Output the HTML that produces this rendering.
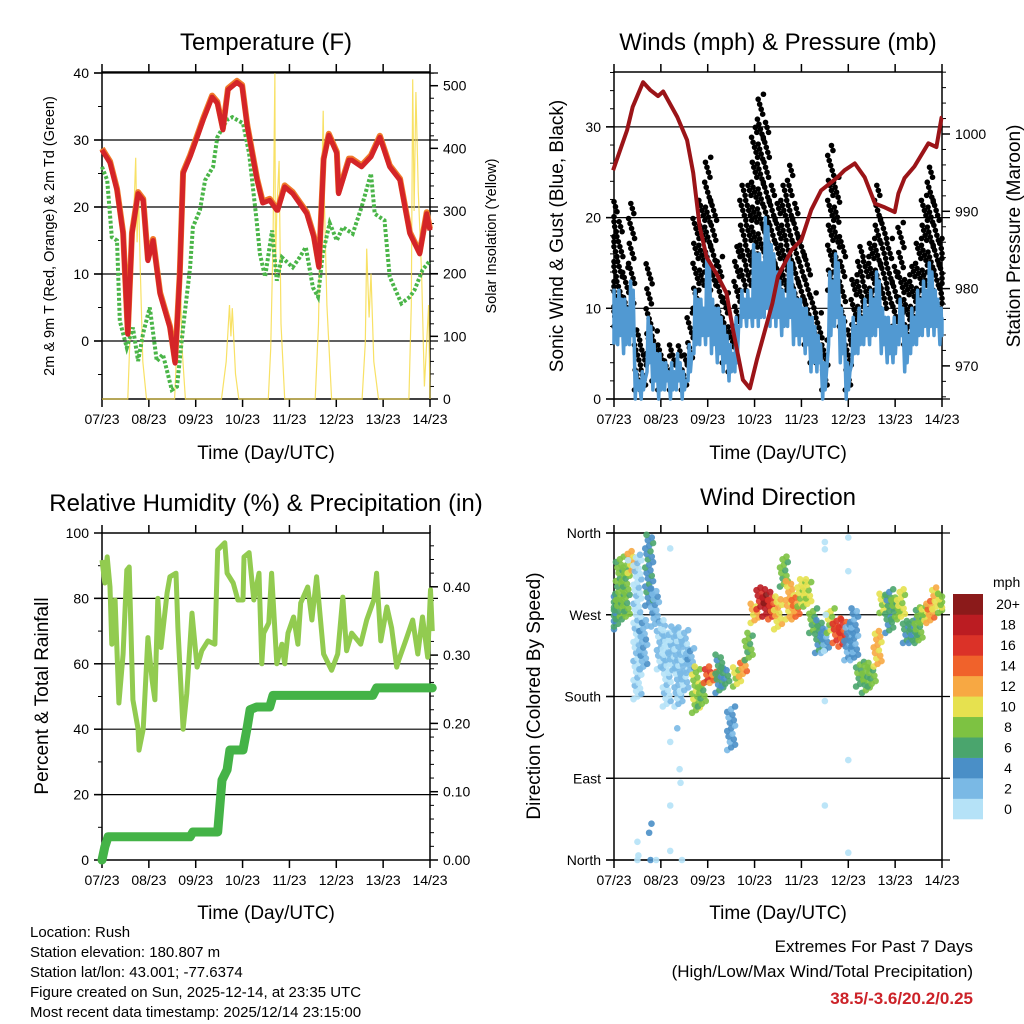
<!DOCTYPE html>
<html><head><meta charset="utf-8"><style>
html,body{margin:0;padding:0;background:#fff;}
svg{display:block;font-family:"Liberation Sans",Arial,sans-serif;}
</style></head><body>
<svg id="chart" width="1024" height="1024" viewBox="0 0 1024 1024" xmlns="http://www.w3.org/2000/svg">
<rect width="1024" height="1024" fill="#fff"/>
<g id="layer"></g>
<text x="266" y="50" font-size="24" text-anchor="middle">Temperature (F)</text>
<text x="778" y="50" font-size="24" text-anchor="middle">Winds (mph) &amp; Pressure (mb)</text>
<text x="266" y="511" font-size="24" text-anchor="middle">Relative Humidity (%) &amp; Precipitation (in)</text>
<text x="778" y="505" font-size="24" text-anchor="middle">Wind Direction</text>
<text x="266" y="459" font-size="19" text-anchor="middle">Time (Day/UTC)</text>
<text x="778" y="459" font-size="19" text-anchor="middle">Time (Day/UTC)</text>
<text x="266" y="919" font-size="19" text-anchor="middle">Time (Day/UTC)</text>
<text x="778" y="919" font-size="19" text-anchor="middle">Time (Day/UTC)</text>
<text transform="translate(54,236) rotate(-90)" font-size="14.5" text-anchor="middle">2m &amp; 9m T (Red, Orange) &amp; 2m Td (Green)</text>
<text transform="translate(496,236) rotate(-90)" font-size="14.5" text-anchor="middle">Solar Insolation (Yellow)</text>
<text transform="translate(563,236) rotate(-90)" font-size="19" text-anchor="middle">Sonic Wind &amp; Gust (Blue, Black)</text>
<text transform="translate(1020,236) rotate(-90)" font-size="19" text-anchor="middle">Station Pressure (Maroon)</text>
<text transform="translate(48,696) rotate(-90)" font-size="19" text-anchor="middle">Percent &amp; Total Rainfall</text>
<text transform="translate(540,696) rotate(-90)" font-size="19" text-anchor="middle">Direction (Colored By Speed)</text>
<g font-size="15">
<text x="30" y="937">Location: Rush</text>
<text x="30" y="957">Station elevation: 180.807 m</text>
<text x="30" y="977">Station lat/lon: 43.001; -77.6374</text>
<text x="30" y="997">Figure created on Sun, 2025-12-14, at 23:35 UTC</text>
<text x="30" y="1017">Most recent data timestamp: 2025/12/14 23:15:00</text>
</g>
<g font-size="17" text-anchor="end">
<text x="973" y="952">Extremes For Past 7 Days</text>
<text x="973" y="977">(High/Low/Max Wind/Total Precipitation)</text>
<text x="973" y="1004" fill="#cc2228" font-weight="bold">38.5/-3.6/20.2/0.25</text>
</g>
</svg>
<script>
// ---------- DATA ----------
const dayLabels = ["07/23","08/23","09/23","10/23","11/23","12/23","13/23","14/23"];
const tempTime = [0,0.17,0.32,0.45,0.55,0.64,0.77,0.88,0.98,1.09,1.24,1.45,1.56,1.66,1.73,1.88,2.03,2.16,2.35,2.46,2.58,2.69,2.88,2.99,3.1,3.31,3.43,3.58,3.73,3.75,3.9,4.07,4.37,4.52,4.63,4.73,4.84,5.01,5.05,5.27,5.33,5.54,5.74,5.93,6.14,6.36,6.57,6.78,6.93,7.0];
const tempVal = [28.5,26.6,22.5,16,1,16,22,21,12,15,7,2,-3.3,10,25,27.5,30.4,33,36.4,35.5,31.5,37.5,38.6,38,32,24,20.6,21,19.5,19.5,23,22,19,15.5,11,27,30.7,28,22,27,27,26,27.5,30.4,26,24,16,13,19,16.5];
const dewTime = [0,0.11,0.21,0.32,0.38,0.53,0.66,0.77,0.88,1.02,1.17,1.3,1.49,1.6,1.73,1.88,1.94,2.09,2.2,2.37,2.46,2.67,2.78,3.01,3.14,3.3,3.37,3.48,3.63,3.73,3.84,4.07,4.22,4.35,4.5,4.61,4.71,4.86,5.01,5.14,5.35,5.54,5.74,5.82,6.03,6.14,6.39,6.57,6.67,6.84,7.0];
const dewVal = [26,24,15.5,15,3,-1,2,-3,1.2,5,-3,-2,-7.3,-6.8,2,11,17,19.5,24,26,30.4,33,33.4,32.5,28,18,13,9.6,16.5,9,12.5,11,12.5,14,8,6.6,13,17.6,15,17,16,20,25,19,18,9.6,5.6,6.6,7.6,10.6,12];
const solarTime = [0,0.55,0.62,0.68,0.72,0.75,0.78,0.82,0.87,0.95,1.55,1.62,1.66,1.7,1.78,2.55,2.65,2.72,2.75,2.78,2.85,2.92,3.55,3.6,3.65,3.69,3.7,3.73,3.78,3.82,3.9,4.55,4.62,4.66,4.7,4.72,4.75,4.8,4.9,5.55,5.62,5.65,5.7,5.74,5.8,5.9,6.55,6.6,6.63,6.66,6.7,6.75,6.82,6.88,6.97,7.0];
const solarVal = [0,0,150,300,385,250,330,200,60,0,0,120,260,90,0,0,60,150,100,145,40,0,0,80,250,520,200,300,380,120,0,0,120,300,380,460,300,150,0,0,90,240,130,200,60,0,0,150,510,300,490,330,200,20,150,0];
const windTime = [];
for (let i = 0; i <= 56; i++) windTime.push(i / 8);
const windLo = [6,6,5,6,0,0,3,1,0,1,0,1,0,2,5,6,6,5,4,3,2,3,8,8,8,8,9,8,8,7,8,6,6,5,3,3,0,6,8,4,0,4,5,6,6,7,5,4,4,6,3,5,6,7,7,7,6];
const windHi = [12,12,11,13,3,3,9,6,5,4,4,5,3,6,12,11,16,11,10,8,6,9,12,12,17,16,20,17,14,12,16,12,11,10,9,7,4,14,16,10,4,9,10,11,12,14,10,9,9,11,8,10,12,13,15,12,10];
const gustLo = [8,8,9,10,1,1,5,2,1,2,1,2,1,4,10,12,14,12,8,4,3,8,12,12,14,16,14,12,10,12,12,10,8,6,4,4,1,12,14,8,1,6,8,8,10,12,10,10,8,9,6,8,10,12,14,12,10];
const gustHi = [22,20,15,22,8,6,15,8,6,5,6,6,5,10,20,22,27,22,16,12,8,17,24,24,30,34,31,24,22,24,26,22,18,16,12,10,7,28,25,18,8,14,17,16,18,24,20,18,15,20,14,15,18,23,26,22,18];
const presTime = [-0.02,0.28,0.4,0.62,0.77,0.94,1.05,1.35,1.56,1.69,1.83,1.98,2.19,2.4,2.53,2.75,2.9,3.05,3.38,3.5,3.79,4.0,4.21,4.42,4.77,4.92,5.14,5.35,5.57,5.78,5.99,6.07,6.2,6.41,6.71,6.88,6.99,7.0];
const presVal = [995.3,1000.5,1003.5,1006.7,1005.7,1004.9,1005.5,1002.2,999.2,995,988,984,981.9,979.4,975,968.2,967.1,970.8,978.1,981.6,985,986.3,990.2,992.7,994.4,995.3,996.2,994.4,991,990.5,989.9,992.3,994.3,995.8,998.8,998.3,1002.1,1002.1];
const rhTime = [0,0.06,0.11,0.17,0.21,0.28,0.36,0.45,0.53,0.58,0.66,0.77,0.79,0.88,0.98,1.07,1.13,1.19,1.26,1.39,1.45,1.58,1.62,1.73,1.81,1.92,2.03,2.13,2.26,2.41,2.47,2.62,2.67,2.8,2.9,3.01,3.03,3.14,3.24,3.35,3.41,3.45,3.56,3.62,3.73,3.84,3.9,3.97,4.09,4.18,4.24,4.39,4.48,4.58,4.73,4.9,5.03,5.14,5.22,5.33,5.52,5.65,5.8,5.86,5.95,6.08,6.18,6.29,6.33,6.48,6.63,6.74,6.84,6.95,7.01,7.05];
const rhVal = [91.7,84.7,92.7,83.5,66,79.5,48,63,88.7,89.6,49,40,33.6,40,68,55,49,80,65,81.7,86.6,87.7,71,40,51,75.5,59,64,67,66,94.8,97,87.7,84.7,79.5,79.5,92.7,94,79.5,87.7,60,69.4,72.5,87.7,60,66,60,69.4,74.3,66,78.6,83.5,73.4,86.6,63,58,63,80.4,64,69.4,66,73.4,79.5,87.7,67,77.4,71,59,61,67,73.4,63,74.3,62,82.6,70];
const precipTime = [0,0.06,0.13,1.88,1.94,2.47,2.56,2.67,2.73,3.01,3.1,3.16,3.3,3.58,3.65,5.78,5.86,7.05];
const precipVal = [0,0.019,0.034,0.034,0.041,0.041,0.117,0.132,0.161,0.161,0.195,0.22,0.224,0.224,0.241,0.241,0.252,0.252];
const dirLo = [254,265,265,316,177,210,280,257,210,169,206,169,184,206,162,169,195,195,184,191,121,191,202,220,261,276,268,265,254,301,265,265,279,279,250,228,228,250,239,235,220,220,191,184,191,213,272,250,265,265,239,239,239,261,261,276,272];
const dirHi = [294,334,327,342,338,265,360,301,265,254,257,257,254,235,213,198,213,209,228,213,169,213,220,250,283,301,298,290,290,334,309,290,309,309,279,265,257,279,268,265,261,279,220,217,213,254,294,298,290,298,265,268,279,279,287,301,294];
const dirSpeed = [6,8,8,12,1,3,5,3,2,1,2,2,2,3,9,8,16,14,6,6,4,10,13,8,12,18,19,16,11,8,12,14,10,10,8,6,4,10,16,16,4,4,7,8,8,12,10,6,8,10,6,6,8,10,13,11,9];
const strayTime = [0.3,0.5,0.5,0.52,0.75,0.78,0.8,0.9,1.2,1.2,1.2,1.2,1.35,1.4,1.42,1.45,4.48,4.5,4.5,4.5,4.5,4.52,5.0,5.0,5.0,5.0];
const strayDir = [330,20,0,5,30,0,40,0,60,130,10,343,145,100,85,0,230,342,350,60,175,270,355,318,110,8];
const straySpeed = [1,1,1,1,4,4,4,1,1,1,1,1,2,1,1,1,1,1,1,1,1,1,1,1,1,1];
const legendLabels = ["0","2","4","6","8","10","12","14","16","18","20+"];
const speedColors = ["#b5e2f7","#7ab9e5","#4a8fc7","#4aa56d","#7dc242","#e6e14f","#f7a843","#f0622b","#db3228","#bb1c22","#8b1a1a"];

// ---------- HELPERS ----------
const NS = "http://www.w3.org/2000/svg";
const layer = document.getElementById("layer");
function mk(tag, attrs, parent) {
  const e = document.createElementNS(NS, tag);
  for (const k in attrs) e.setAttribute(k, attrs[k]);
  (parent || layer).appendChild(e);
  return e;
}
function txt(s, attrs, parent) { const e = mk("text", attrs, parent); e.textContent = s; return e; }
function pts(xs, ys, fx, fy) { return xs.map((t, i) => fx(t).toFixed(1) + "," + fy(ys[i]).toFixed(1)).join(" "); }
function speedColor(v) { return speedColors[Math.max(0, Math.min(10, Math.floor(v / 2)))]; }

const P = {
  tl: {x0:102, x1:430, y0:72, y1:399},
  tr: {x0:614, x1:942, y0:72, y1:399},
  bl: {x0:102, x1:430, y0:533, y1:860},
  br: {x0:614, x1:942, y0:533, y1:860}
};
const dayW = 328 / 7;
function xOf(p) { return d => p.x0 + d * dayW; }

function frame(p, name) {
  const g = mk("g", {});
  
  
  for (let d = 0; d <= 7; d++) {
    const x = p.x0 + d * dayW;
    const t1 = mk("line", {x1:x, y1:p.y1, x2:x, y2:p.y1 + 8, stroke:"#000", "stroke-width":1.5}, g);
    
    
    mk("line", {x1:x, y1:p.y0, x2:x, y2:p.y0 - 8, stroke:"#000", "stroke-width":1.5}, g);
    const lb = txt(dayLabels[d], {x:x, y:p.y1 + 25, "font-size":14, "text-anchor":"middle"}, g);
    
    
  }
  return g;
}
function yAxis(p, g, side, fy, majors, labels, minors, grid) {
  const xe = side === "l" ? p.x0 : p.x1, s = side === "l" ? -1 : 1;
  minors.forEach(v => { const y = fy(v); if (y >= p.y0 - 0.5 && y <= p.y1 + 0.5) mk("line", {x1:xe, y1:y, x2:xe + s * 4, y2:y, stroke:"#000", "stroke-width":1}, g); });
  majors.forEach((v, i) => {
    const y = fy(v);
    mk("line", {x1:xe, y1:y, x2:xe + s * 8, y2:y, stroke:"#000", "stroke-width":1.5}, g);
    if (grid) {
      const gl = mk("line", {x1:p.x0 - 8, y1:y, x2:p.x1 + 8, y2:y, stroke:"#000", "stroke-width":1.2}, g);
      
      
    }
    const lb = txt(labels[i], {x:xe + s * 13, y:y + 5, "font-size":14, "text-anchor":side === "l" ? "end" : "start"}, g);
    
    
  });
}
function range(a, b, s) { const r = []; for (let v = a; v <= b + 1e-9; v += s) r.push(+v.toFixed(4)); return r; }
function box(p, g) { mk("rect", {x:p.x0, y:p.y0, width:p.x1 - p.x0, height:p.y1 - p.y0, fill:"none", stroke:"#000", "stroke-width":1.5}, g); }

// ---------- TEMPERATURE PANEL ----------
(function () {
  const p = P.tl, fx = xOf(p);
  const fy = v => 341 - v * 6.7, fs = v => 399 - v * 0.6266;
  const g = frame(p, "temperature");
  yAxis(p, g, "l", fy, [0,10,20,30,40], ["0","10","20","30","40"], range(-5, 40, 5), true);
  yAxis(p, g, "r", fs, [0,100,200,300,400,500], ["0","100","200","300","400","500"], range(0, 520, 20), false);
  const sol = mk("polyline", {points:pts(solarTime, solarVal, fx, v => Math.max(p.y0, fs(v))), fill:"none", stroke:"#f7dc4a", "stroke-width":1.2, "stroke-opacity":0.85});
  
  
  const dew = mk("polyline", {points:pts(dewTime, dewVal, fx, fy), fill:"none", stroke:"#4ab548", "stroke-width":4, "stroke-dasharray":"3 2"});
  
  
  const t9 = mk("polyline", {points:pts(tempTime, tempVal, fx, v => fy(v) - 1.5), fill:"none", stroke:"#f07a2a", "stroke-width":6, "stroke-linejoin":"round"});
  
  
  const t2 = mk("polyline", {points:pts(tempTime, tempVal, fx, fy), fill:"none", stroke:"#d42428", "stroke-width":5, "stroke-linejoin":"round"});
  
  
  box(p, g);
})();

// ---------- WINDS PANEL ----------
(function () {
  const p = P.tr, fx = xOf(p);
  const fy = v => 399 - v * 9.07, fp = v => 134 - (v - 1000) * 7.73;
  const g = frame(p, "winds");
  yAxis(p, g, "l", fy, [0,10,20,30], ["0","10","20","30"], range(0, 36, 2), true);
  yAxis(p, g, "r", fp, [970,980,990,1000], ["970","980","990","1000"], range(966, 1008, 2), false);
  const gg = mk("g", {});
  
  
  windTime.forEach((t, i) => {
    let k = 0;
    for (let v = gustLo[i]; v <= gustHi[i]; v += 0.55, k++) {
      const c = mk("circle", {cx:Math.min(p.x1, Math.max(p.x0, fx(t) + ((k * 7) % 9 - 4) * 0.75)), cy:fy(v), r:2.8, fill:"#000"}, gg);
      
      
    }
  });
  // jagged blue band: zigzag between low and high values
  const zx = [], zy = [];
  windTime.forEach((t, i) => {
    zx.push(t - 0.045); zy.push(windLo[i]);
    zx.push(t - 0.02); zy.push(windHi[i]);
    zx.push(t + 0.005); zy.push(windLo[i] + 1);
    zx.push(t + 0.035); zy.push(windHi[i] - 1);
  });
  const wl = mk("polyline", {points:pts(zx, zy, d => Math.min(p.x1, Math.max(p.x0, fx(d))), fy), fill:"none", stroke:"#5199d2", "stroke-width":3.5, "stroke-linejoin":"round"});
  
  
  const pr = mk("polyline", {points:pts(presTime, presVal, fx, fp), fill:"none", stroke:"#9b1418", "stroke-width":4, "stroke-linejoin":"round"});
  
  
  box(p, g);
})();

// ---------- HUMIDITY PANEL ----------
(function () {
  const p = P.bl, fx = xOf(p);
  const fy = v => 860 - v * 3.27, fr = v => 860 - v * 683;
  const g = frame(p, "humidity");
  yAxis(p, g, "l", fy, [0,20,40,60,80,100], ["0","20","40","60","80","100"], range(0, 100, 10), false);
  [20,40,60,80].forEach(v => {
    const gl = mk("line", {x1:p.x0 - 8, y1:fy(v), x2:p.x1 + 8, y2:fy(v), stroke:"#000", "stroke-width":1.2}, g);
    
    
  });
  yAxis(p, g, "r", fr, [0,0.1,0.2,0.3,0.4], ["0.00","0.10","0.20","0.30","0.40"], range(0, 0.46, 0.02), false);
  const rh = mk("polyline", {points:pts(rhTime, rhVal, fx, fy), fill:"none", stroke:"#92cb50", "stroke-width":5, "stroke-linejoin":"round"});
  
  
  const pc = mk("polyline", {points:pts(precipTime, precipVal, fx, fr), fill:"none", stroke:"#44b347", "stroke-width":9, "stroke-linejoin":"round", "stroke-linecap":"round"});
  
  
  box(p, g);
})();

// ---------- WIND DIRECTION PANEL ----------
(function () {
  const p = P.br, fx = xOf(p);
  const fy = v => 860 - v * (327 / 360);
  const g = frame(p, "wind-direction");
  yAxis(p, g, "l", fy, [0,90,180,270,360], ["North","East","South","West","North"], [], true);
  const dg = mk("g", {"fill-opacity":0.9});
  
  
  windTime.forEach((t, i) => {
    let k = 0;
    for (let v = dirLo[i]; v <= dirHi[i]; v += 3, k++) {
      const c = mk("circle", {cx:Math.min(p.x1, Math.max(p.x0, fx(t) + ((k * 3) % 7 - 3) * 1.3)), cy:fy(v), r:3.3, fill:speedColor(dirSpeed[i] + ((k % 3) - 1))}, dg);
      
      
    }
  });
  strayTime.forEach((t, i) => {
    const c = mk("circle", {cx:fx(t), cy:fy(strayDir[i]), r:3.3, fill:speedColor(straySpeed[i])}, dg);
    
    
  });
  box(p, g);
  const lg = mk("g", {});
  
  
  const lt = txt("mph", {x:993, y:587, "font-size":14, "text-anchor":"start"}, lg);
  
  
  const bh = 225 / 11;
  legendLabels.forEach((l, i) => {
    const y = 819 - (i + 1) * bh;
    const r = mk("rect", {x:953, y:y, width:30, height:bh + 0.3, fill:speedColors[i]}, lg);
    
    
    const t = txt(l, {x:1008, y:y + bh / 2 + 5, "font-size":14, "text-anchor":"middle"}, lg);
    
    
  });
})();
</script>
</body></html>
